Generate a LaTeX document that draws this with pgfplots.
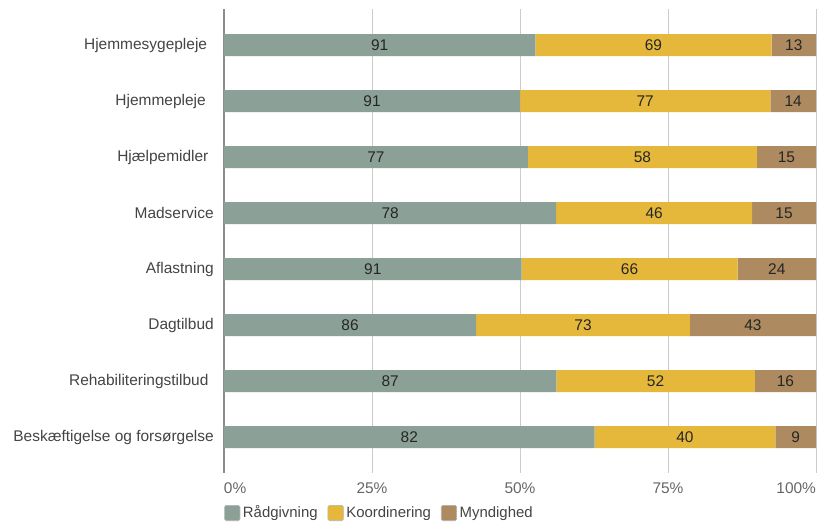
\documentclass[border=0pt]{standalone}
\usepackage{pgfplots}
\pgfplotsset{compat=1.18}
\usepackage{pgfplotstable}
\usepackage{fontspec}
\setmainfont{Liberation Sans}

\definecolor{raad}{HTML}{8BA197}
\definecolor{koord}{HTML}{E5B83B}
\definecolor{mynd}{HTML}{AD8A5F}
\definecolor{labgray}{HTML}{444444}
\definecolor{tickgray}{HTML}{666666}

% raw counts, index 0 = top row
\pgfplotstableread{
idx a  b  c
0   91 69 13
1   91 77 14
2   77 58 15
3   78 46 15
4   91 66 24
5   86 73 43
6   87 52 16
7   82 40  9
}\tab

\pgfplotsset{
  /pgf/number format/assume math mode=true,
  base/.style={
    width=444pt, height=348pt, scale only axis,
    xmin=0, xmax=100, ymin=-0.643, ymax=7.643, y dir=reverse,
  },
}

\begin{document}
\fontsize{11.6}{13.8}\selectfont
\begin{tikzpicture}
\useasboundingbox (-168pt,-36.75pt) rectangle (450pt,354.75pt);
\begin{axis}[
    base,
    xbar stacked,
    bar width=16.5pt,
    axis line style={draw=none},
    tick style={draw=none},
    xtick={0,25,50,75,100},
    xticklabels={\makebox[0pt][l]{0\%},25\%,50\%,75\%,\makebox[0pt][r]{100\%}},
    xticklabel style={anchor=north, inner sep=0pt, yshift=-7.3pt, text=tickgray},
    ytick={0,...,7},
    yticklabels={Hjemmesygepleje\kern5pt,Hjemmepleje\kern6pt,Hjælpemidler\kern4pt,Madservice,Aflastning,Dagtilbud,Rehabiliteringstilbud\kern4pt,Beskæftigelse og forsørgelse},
    yticklabel style={anchor=east, inner sep=0pt, xshift=-7.5pt, text=labgray},
    xmajorgrids=true,
    major grid style={draw=black!20, line width=0.6pt},
    extra x ticks={0},
    extra x tick labels={},
    extra x tick style={grid=major, major grid style={draw=black!45, line width=0.8pt}},
    legend style={at={(0,0)}, anchor=west, xshift=0pt, yshift=-30pt,
      draw=none, fill=none, inner sep=0pt, legend columns=3,
      /tikz/every even column/.append style={column sep=5.5pt},
      text=labgray, font=\fontsize{11.2}{13.4}\selectfont},
    legend cell align=left,
    legend image code/.code={\path[#1, draw=black!30, line width=0.4pt, rounded corners=1.2pt] (0pt,-5.8pt) rectangle (11.6pt,5.8pt);},
  ]
  \addplot[fill=raad, draw=none] table[x expr={\thisrow{a}/(\thisrow{a}+\thisrow{b}+\thisrow{c})*100}, y=idx] {\tab};
  \addplot[fill=koord, draw=none] table[x expr={\thisrow{b}/(\thisrow{a}+\thisrow{b}+\thisrow{c})*100}, y=idx] {\tab};
  \addplot[fill=mynd, draw=none] table[x expr={\thisrow{c}/(\thisrow{a}+\thisrow{b}+\thisrow{c})*100}, y=idx] {\tab};
  \legend{Rådgivning,Koordinering,Myndighed}
\end{axis}
\begin{axis}[
    base, hide axis,
    nodes near coords,
    nodes near coords align=center,
    every node near coord/.append style={anchor=center, text=black!85, font=\fontsize{11.6}{13.8}\selectfont},
    point meta=explicit,
  ]
  \addplot[only marks, mark=none] table[x expr={\thisrow{a}/2/(\thisrow{a}+\thisrow{b}+\thisrow{c})*100}, y=idx, meta=a] {\tab};
  \addplot[only marks, mark=none] table[x expr={(\thisrow{a}+\thisrow{b}/2)/(\thisrow{a}+\thisrow{b}+\thisrow{c})*100}, y=idx, meta=b] {\tab};
  \addplot[only marks, mark=none] table[x expr={(\thisrow{a}+\thisrow{b}+\thisrow{c}/2)/(\thisrow{a}+\thisrow{b}+\thisrow{c})*100}, y=idx, meta=c] {\tab};
\end{axis}
\end{tikzpicture}
\end{document}
